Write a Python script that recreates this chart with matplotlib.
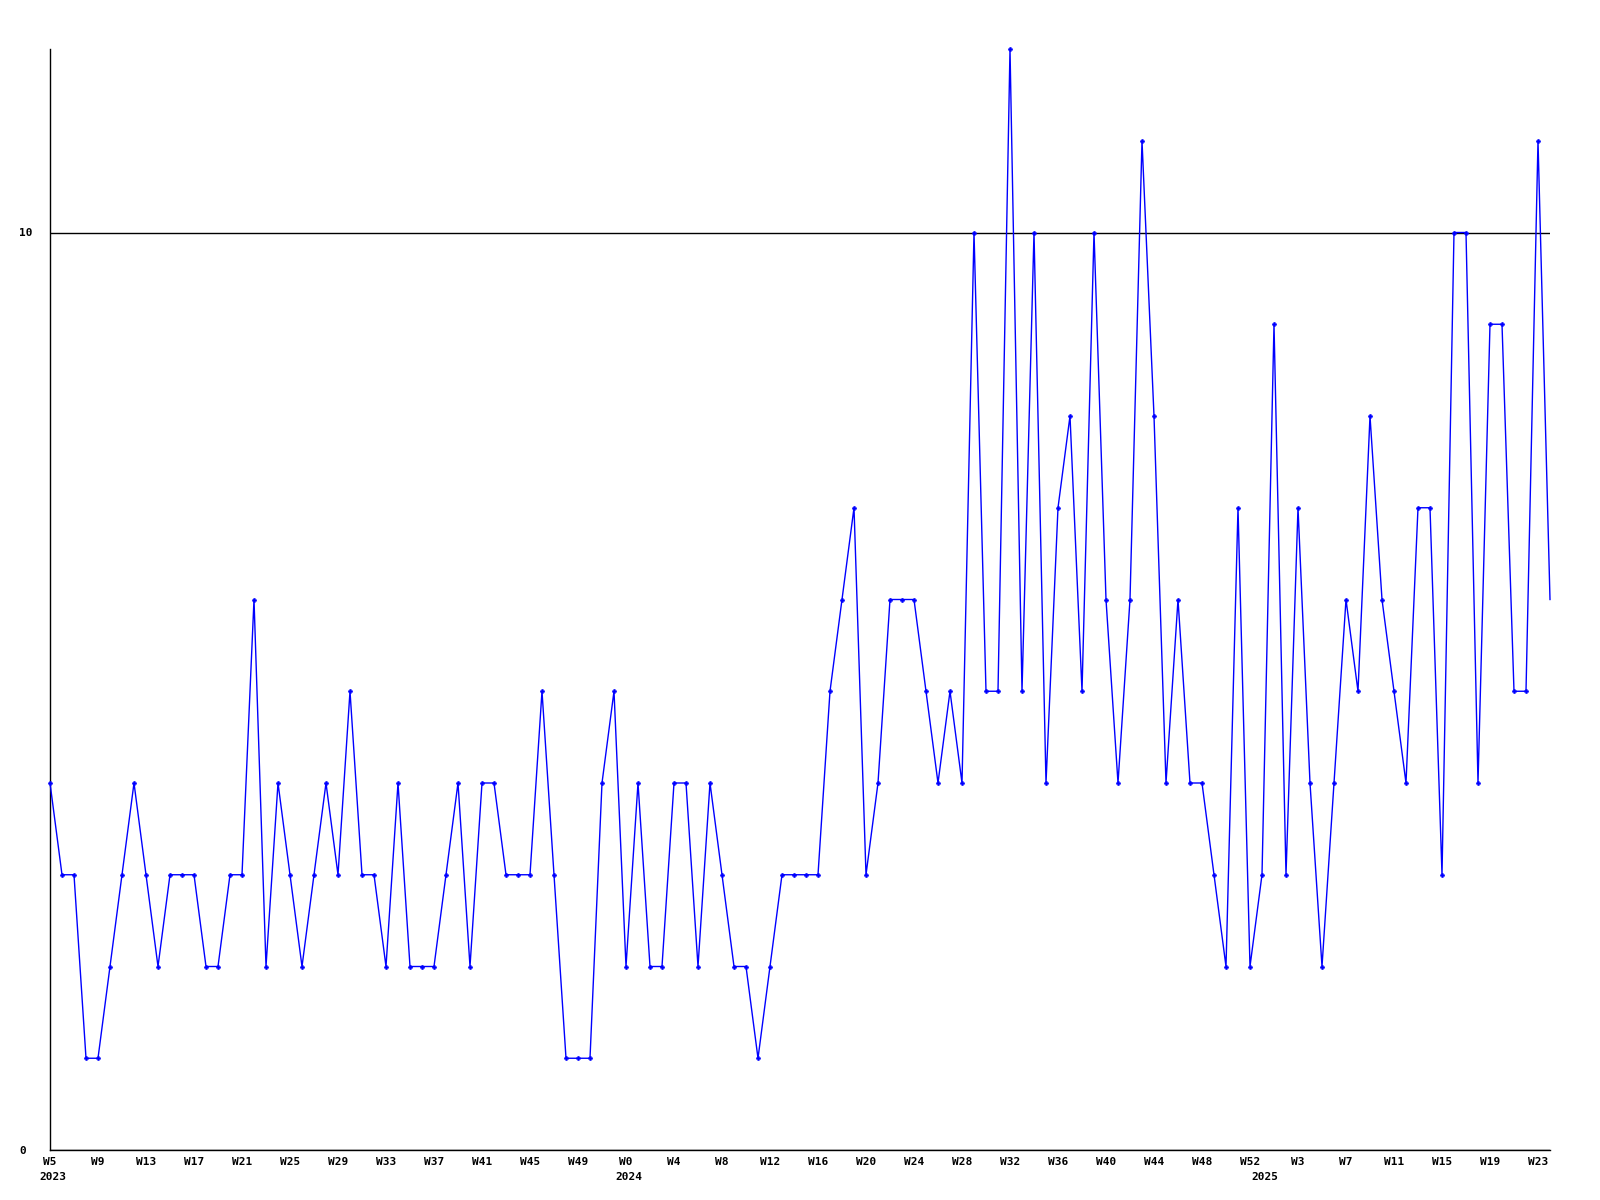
import numpy as np
import matplotlib
matplotlib.use("Agg")
import matplotlib.pyplot as plt
from matplotlib.transforms import offset_copy

# semanas: 2023 W5..W52, 2024 W0..W52, 2025 W0..W24
anios = [2023] * 48 + [2024] * 53 + [2025] * 25
semanas = list(range(5, 53)) + list(range(0, 53)) + list(range(0, 25))
valores = [
    4, 3, 3, 1, 1, 2, 3, 4, 3, 2, 3, 3, 3, 2, 2, 3, 3, 6, 2, 4,
    3, 2, 3, 4, 3, 5, 3, 3, 2, 4, 2, 2, 2, 3, 4, 2, 4, 4, 3, 3,
    3, 5, 3, 1, 1, 1, 4, 5, 2, 4, 2, 2, 4, 4, 2, 4, 3, 2, 2, 1,
    2, 3, 3, 3, 3, 5, 6, 7, 3, 4, 6, 6, 6, 5, 4, 5, 4, 10, 5, 5,
    12, 5, 10, 4, 7, 8, 5, 10, 6, 4, 6, 11, 8, 4, 6, 4, 4, 3, 2, 7,
    2, 3, 9, 3, 7, 4, 2, 4, 6, 5, 8, 6, 5, 4, 7, 7, 3, 10, 10, 4,
    9, 9, 5, 5, 11, 6,
]
y_ticks = [0, 10]

x = np.arange(len(valores))

fig = plt.figure(figsize=(16, 12), dpi=100)
ax = fig.add_axes([50 / 1600, 50 / 1200, 1500 / 1600, 1101 / 1200])

# el último punto queda en el borde y no lleva marcador
ax.plot(x, valores, color='#0000ff', lw=1, marker='P', markersize=3,
        markeredgewidth=0.4, markevery=slice(0, len(valores) - 1),
        clip_on=False, zorder=3)

ax.set_xlim(0, len(valores) - 1)
ax.set_ylim(0, 12)

ax.spines['top'].set_visible(False)
ax.spines['right'].set_visible(False)
for s in ['left', 'bottom']:
    ax.spines[s].set_color('black')
    ax.spines[s].set_linewidth(1)

fuente = dict(family='DejaVu Sans Mono', weight='bold', size=8)

ax.set_yticks(y_ticks)
ax.set_yticklabels([str(v) for v in y_ticks], **fuente)
ax.tick_params(axis='y', length=0, pad=22)
for lab in ax.get_yticklabels():
    lab.set_horizontalalignment('left')
ax.yaxis.grid(True, color='black', lw=1)
ax.set_axisbelow(True)

pos = x[::4]
ax.set_xticks(pos)
ax.set_xticklabels(['W%d' % semanas[i] for i in pos], **fuente)
ax.tick_params(axis='x', length=0, pad=5)

# etiquetas de año en la primera semana de cada año
trans = offset_copy(ax.get_xaxis_transform(), fig=fig, x=-11, y=-27, units='dots')
for i in range(len(anios)):
    if i == 0 or anios[i] != anios[i - 1]:
        ax.text(i, 0, str(anios[i]), transform=trans, ha='left', va='center', **fuente)

fig.savefig('out.png', dpi=100, facecolor='white')
